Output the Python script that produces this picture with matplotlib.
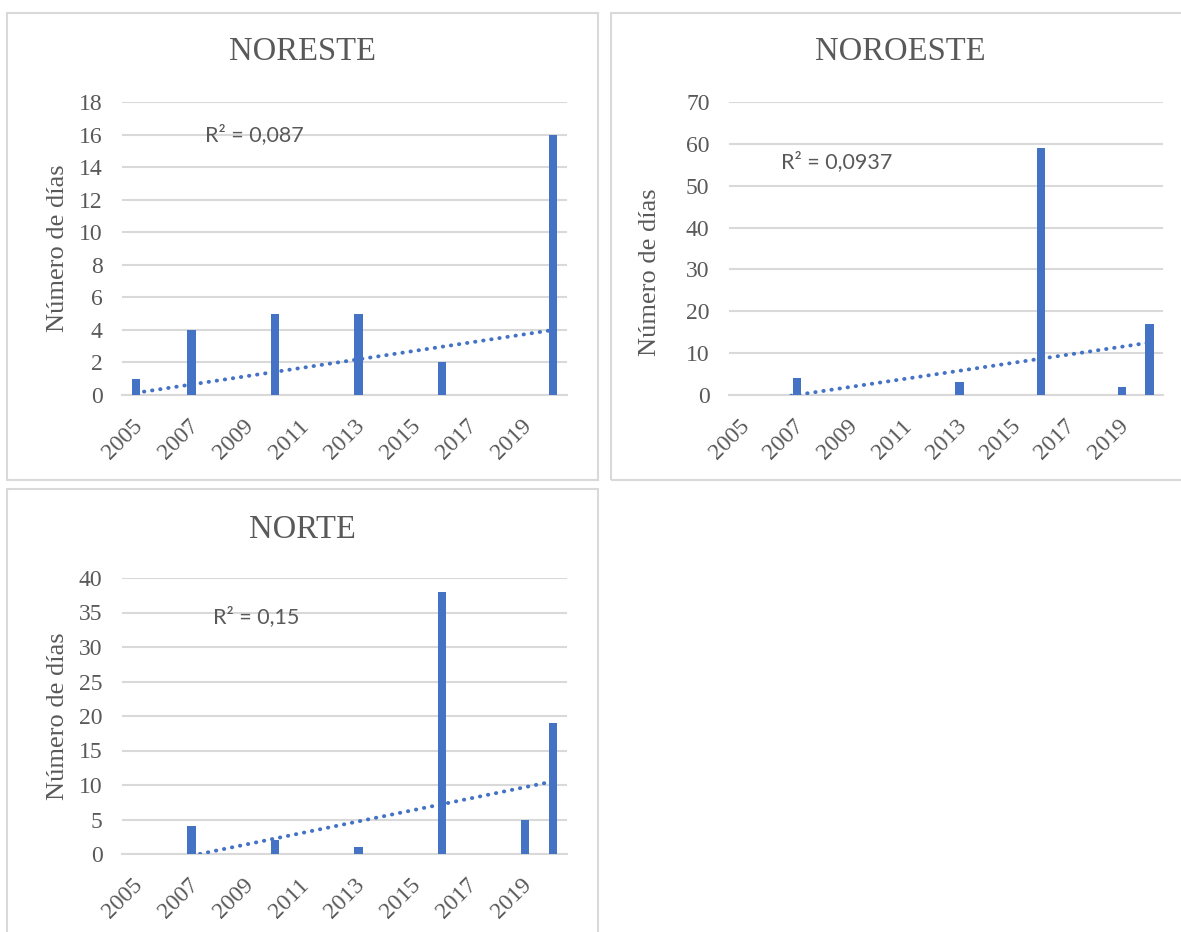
import numpy as np
import matplotlib
matplotlib.use('Agg')
import matplotlib.pyplot as plt
from matplotlib.patches import Rectangle
from matplotlib.transforms import ScaledTranslation

# data
years = list(range(2005, 2021))
noreste = [1, 0, 4, 0, 0, 5, 0, 0, 5, 0, 0, 2, 0, 0, 0, 16]
noroeste = [0, 0, 4, 0, 0, 0, 0, 0, 3, 0, 0, 59, 0, 0, 2, 17]
norte = [0, 0, 4, 0, 0, 2, 0, 0, 1, 0, 0, 38, 0, 0, 5, 19]
r2_labels = ["R² = 0,087", "R² = 0,0937", "R² = 0,15"]
titles = ["NORESTE", "NOROESTE", "NORTE"]
ymax = [18, 70, 40]
ystep = [2, 10, 5]

W, H = 1181, 932
BAR = "#4472C4"
GRID = "#D9D9D9"
TXT = "#595959"
SERIF = "Liberation Serif"

fig = plt.figure(figsize=(W / 100, H / 100), dpi=100)


def fx(px):
    return px / W


def fy(py):
    return 1 - py / H


# panel layout in pixels: box, plot area, title y, ylabel pos, r2 text pos
panels = [
    dict(box=(7, 13, 598, 480), plot=(122, 102, 567, 395), ty=52, yl=(58, 248), r2=(205, 135)),
    dict(box=(611, 13, 1190, 480), plot=(729, 102, 1163, 395), ty=52, yl=(650, 272), r2=(781, 162)),
    dict(box=(7, 489, 598, 945), plot=(122, 578, 567, 854), ty=530, yl=(58, 716), r2=(213, 617)),
]
series = [noreste, noroeste, norte]

for i, p in enumerate(panels):
    bx0, by0, bx1, by1 = p["box"]
    fig.patches.append(Rectangle((fx(bx0), fy(by1)), fx(bx1 - bx0), (by1 - by0) / H,
                                 transform=fig.transFigure, fill=False,
                                 edgecolor=GRID, lw=1.5, zorder=0))
    x0, y0, x1, y1 = p["plot"]
    ax = fig.add_axes([fx(x0), fy(y1), fx(x1 - x0), (y1 - y0) / H])
    vals = np.array(series[i])
    idx = np.arange(len(years))
    ax.bar(idx, vals, width=0.3, color=BAR, zorder=3)

    # linear trendline like Excel
    xs = idx + 1
    slope, intercept = np.polyfit(xs, vals, 1)
    ax.plot(idx, slope * xs + intercept, color=BAR, lw=2.8,
            linestyle=(0, (0.1, 2.0)), dash_capstyle="round", zorder=4)

    ax.set_xlim(-0.5, len(years) - 0.5)
    ax.set_ylim(0, ymax[i])
    ax.set_yticks(np.arange(0, ymax[i] + 1, ystep[i]))
    ax.grid(axis="y", color=GRID, lw=1.5, zorder=0)
    ax.set_axisbelow(True)
    for s in ["top", "right", "left"]:
        ax.spines[s].set_visible(False)
    ax.spines["bottom"].set_color(GRID)
    ax.spines["bottom"].set_linewidth(1.5)
    ax.tick_params(length=0)
    ax.tick_params(axis="y", pad=14, labelsize=17, labelcolor=TXT)
    ax.tick_params(axis="x", pad=15, labelsize=17, labelcolor=TXT)
    ax.set_xticks(idx[::2])
    ax.set_xticklabels([str(y) for y in years[::2]])
    shift = ScaledTranslation(-4 / 100, 0, fig.dpi_scale_trans)
    for lab in ax.get_xticklabels():
        lab.set_rotation(45)
        lab.set_rotation_mode("anchor")
        lab.set_ha("right")
        lab.set_va("top")
        lab.set_transform(lab.get_transform() + shift)
    for lab in ax.get_xticklabels() + ax.get_yticklabels():
        lab.set_fontfamily(SERIF)
    ax.patch.set_alpha(0)

    fig.text(fx((bx0 + min(bx1, W + 9)) / 2), fy(p["ty"]), titles[i], family=SERIF,
             fontsize=23.5, color=TXT, ha="center", va="center")
    fig.text(fx(p["yl"][0]), fy(p["yl"][1]), "Número de días", family=SERIF,
             fontsize=19, color=TXT, ha="center", va="center", rotation=90)
    fig.text(fx(p["r2"][0]), fy(p["r2"][1]), r2_labels[i], family="Lato",
             fontsize=15.5, color=TXT, ha="left", va="center")

fig.savefig("out.png", dpi=100, facecolor="white")
